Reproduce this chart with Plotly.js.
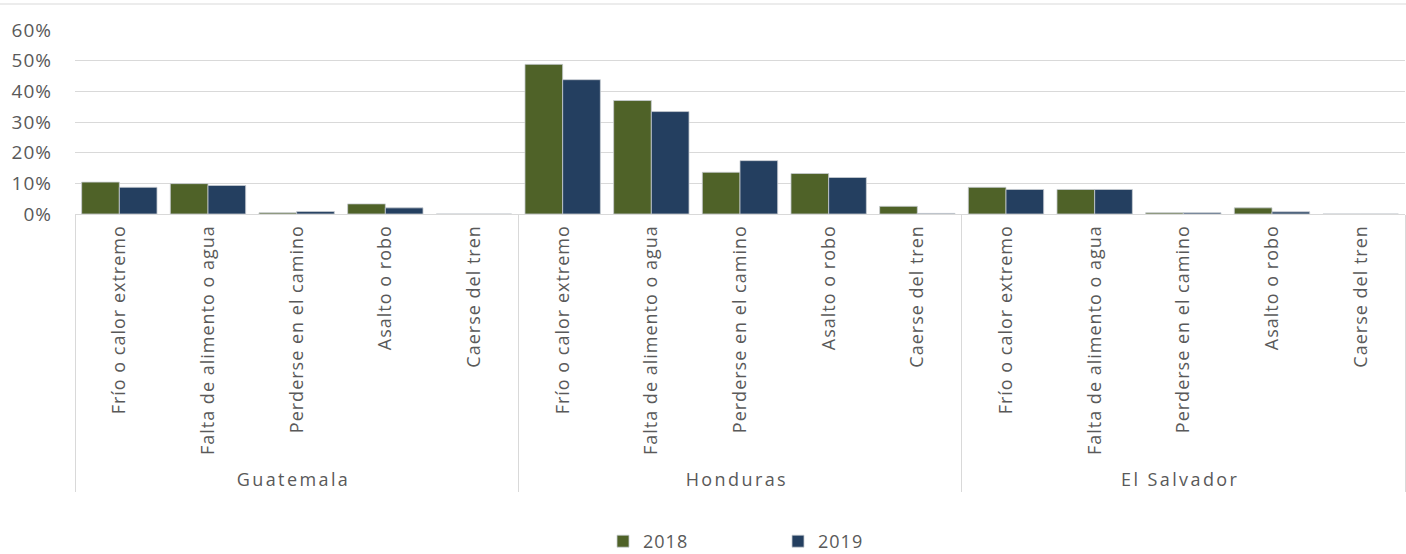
<!DOCTYPE html>
<html>
<head>
<meta charset="utf-8">
<script src="https://cdn.plot.ly/plotly-3.0.1.min.js"></script>
<style>html,body{margin:0;padding:0;background:#fff;}#chart{width:1406px;height:554px;}
svg text{letter-spacing:1px;}
svg .xtick2 text{letter-spacing:2.4px;}</style>
</head>
<body>
<div id="chart"></div>
<script>
const countries = ["Guatemala", "Honduras", "El Salvador"];
const risks = ["Frío o calor extremo", "Falta de alimento o agua", "Perderse en el camino", "Asalto o robo", "Caerse del tren"];
const series2018 = [
  [0.104, 0.099, 0.004, 0.033, 0.000],
  [0.488, 0.370, 0.136, 0.132, 0.025],
  [0.087, 0.080, 0.004, 0.020, 0.000]
];
const series2019 = [
  [0.087, 0.093, 0.008, 0.020, 0.000],
  [0.438, 0.334, 0.174, 0.119, 0.002],
  [0.080, 0.080, 0.004, 0.007, 0.000]
];
const yearNames = ["2018", "2019"];
const colors = ["#4F6228", "#243F60"];

const outer = [], inner = [];
countries.forEach(c => risks.forEach(r => { outer.push(c); inner.push(r); }));
const flat = arr => arr.reduce((a, b) => a.concat(b), []);

const traces = [series2018, series2019].map((s, i) => ({
  type: "bar",
  name: yearNames[i],
  x: [outer, inner],
  y: flat(s),
  marker: {color: colors[i], line: {color: "rgba(200,205,210,0.8)", width: 1}},
  hoverinfo: "y"
}));

const F = "'Open Sans', sans-serif";
const layout = {
  width: 1406, height: 554,
  margin: {l: 75, r: 1, t: 30, b: 340},
  paper_bgcolor: "#fff", plot_bgcolor: "#fff",
  font: {family: F, size: 18, color: "#595959"},
  barmode: "group", bargap: 0.15, bargroupgap: 0,
  showlegend: true,
  legend: {orientation: "h", x: (603 - 75) / 1330, xanchor: "left", xref: "paper", y: 1 - 541.5/554, yanchor: "middle", yref: "container",
           font: {family: F, size: 18, color: "#595959"}, entrywidth: 130, entrywidthmode: "pixels",
           itemclick: false},
  xaxis: {type: "multicategory", tickangle: -90, showline: true, linecolor: "#d9d9d9", linewidth: 1,
          showdividers: true, dividercolor: "#d9d9d9", dividerwidth: 1, ticks: "", automargin: false,
          ticklabelstandoff: 3,
          tickfont: {family: F, size: 18, color: "#595959"}},
  yaxis: {range: [0, 0.6], dtick: 0.1, tickformat: ".0%", gridcolor: "#d9d9d9", gridwidth: 1,
          zeroline: false, ticks: "", ticklabelstandoff: 22, automargin: false,
          tickfont: {family: F, size: 19, color: "#595959"}},
  shapes: [{type: "line", xref: "paper", yref: "paper", x0: -75/1330, x1: 1 + 1/1330,
            y0: 1 + 26/184, y1: 1 + 26/184, line: {color: "#d9d9d9", width: 1}}]
};
Plotly.newPlot("chart", traces, layout, {displayModeBar: false, staticPlot: true});
</script>
</body>
</html>
